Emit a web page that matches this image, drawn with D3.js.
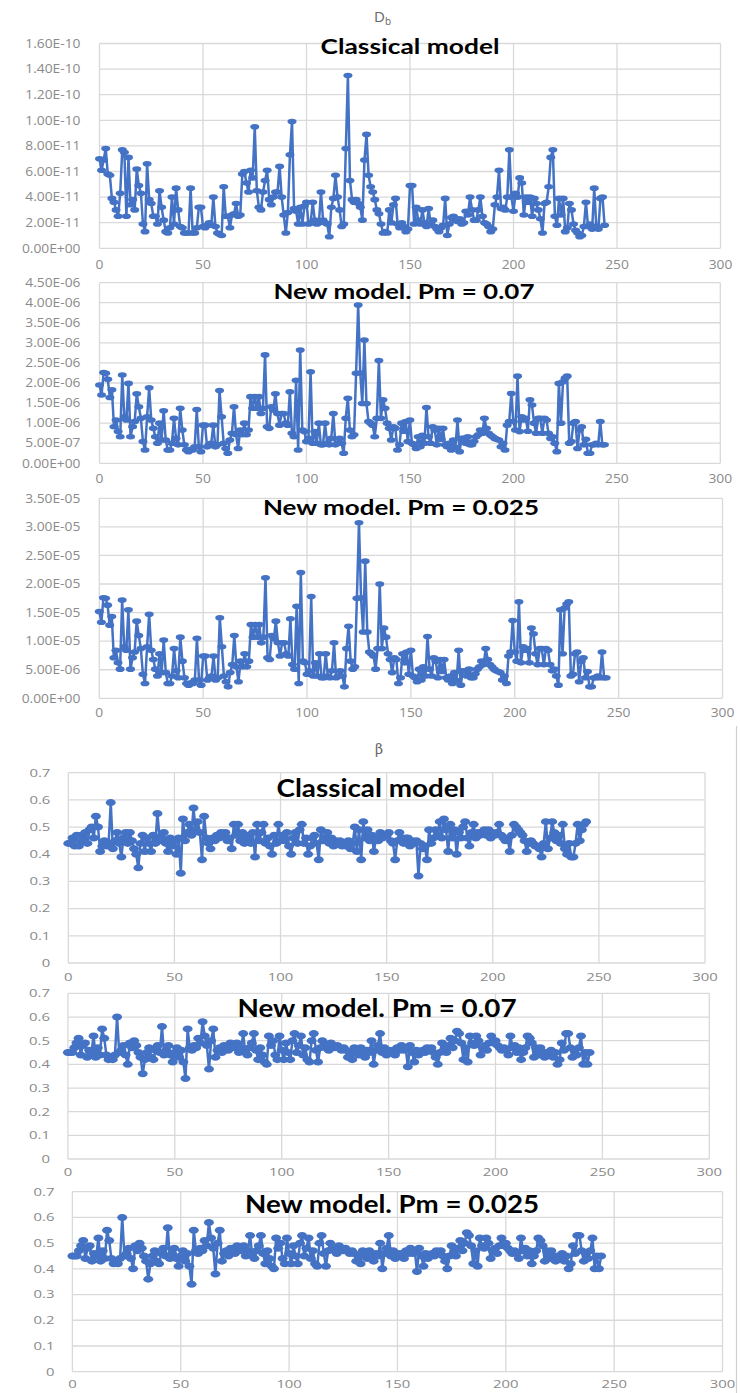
<!DOCTYPE html>
<html>
<head>
<meta charset="utf-8">
<script src="https://cdn.jsdelivr.net/npm/d3@7/dist/d3.min.js"></script>
<style>
  html, body { margin: 0; padding: 0; background: #fff; }
  svg { display: block; }
</style>
</head>
<body>
<svg id="chart" width="740" height="1393"></svg>
<script>
// ---------- data ----------
const xTicks = [0, 50, 100, 150, 200, 250, 300];

// D_b, classical model (values in units of 1e-11)
const dbClassicalUnit = 1e-11;
const dbClassicalTicks = [0, 2, 4, 6, 8, 10, 12, 14, 16];
const dbClassical = [
  7.0, 6.1, 6.9, 7.8, 5.8, 5.7, 3.9, 3.6, 3.0, 2.5,
  4.3, 7.7, 7.5, 2.5, 7.1, 3.4, 3.8, 3.0, 6.2, 4.9,
  4.3, 1.9, 1.3, 6.6, 3.8, 3.5, 2.5, 2.5, 1.9, 4.5,
  3.2, 2.2, 1.3, 1.2, 1.6, 4.0, 1.9, 4.7, 3.0, 1.7,
  1.6, 1.2, 1.2, 1.2, 4.7, 1.2, 1.2, 1.6, 3.2, 3.2,
  1.7, 1.6, 1.8, 2.0, 1.8, 4.0, 1.7, 1.2, 1.1, 1.0,
  4.8, 2.5, 2.5, 1.6, 2.6, 2.7, 3.5, 2.5, 2.6, 5.8,
  6.0, 5.1, 4.4, 6.1, 5.5, 9.5, 4.5, 3.2, 3.0, 4.4,
  5.3, 6.1, 3.8, 3.4, 4.0, 4.4, 4.4, 6.4, 4.0, 2.6,
  1.2, 2.8, 7.3, 9.9, 3.1, 2.9, 1.9, 3.2, 1.9, 3.3,
  3.6, 1.9, 2.0, 3.6, 2.2, 1.9, 2.0, 4.4, 2.2, 2.0,
  1.9, 0.9, 3.2, 3.9, 5.7, 4.0, 3.0, 1.7, 1.9, 7.8,
  13.5, 5.3, 3.8, 3.6, 3.8, 3.5, 3.2, 2.2, 6.9, 8.9,
  5.7, 4.8, 4.4, 3.8, 3.0, 2.7, 1.9, 1.2, 1.3, 1.2,
  3.0, 2.0, 3.4, 3.9, 1.9, 1.6, 2.0, 1.7, 1.3, 1.5,
  4.9, 4.9, 1.9, 3.2, 2.2, 1.9, 3.0, 2.0, 1.7, 3.1,
  1.9, 2.2, 1.7, 1.5, 1.3, 1.6, 1.8, 3.9, 1.0, 1.9,
  2.4, 2.5, 2.2, 2.1, 2.3, 1.9, 2.0, 2.9, 2.6, 4.0,
  3.0, 2.2, 2.2, 3.0, 4.0, 2.5, 2.0, 1.9, 1.7, 1.3,
  1.5, 3.4, 4.0, 6.1, 3.1, 3.2, 3.0, 4.0, 7.7, 4.0,
  2.9, 4.3, 4.0, 5.5, 5.1, 2.6, 4.0, 3.6, 4.0, 2.5,
  3.9, 3.5, 3.0, 2.3, 1.2, 3.5, 3.6, 4.8, 7.1, 7.7,
  2.5, 1.8, 3.9, 2.6, 3.9, 1.3, 1.6, 3.5, 3.0, 1.9,
  1.4, 1.2, 0.9, 1.0, 1.7, 3.6, 1.7, 1.9, 1.5, 4.7,
  1.7, 1.5, 3.9, 4.0, 1.8
];

// D_b, new model, Pm = 0.07 (values in units of 1e-6)
const dbNew07Unit = 1e-6;
const dbNew07Ticks = [0, 0.5, 1, 1.5, 2, 2.5, 3, 3.5, 4, 4.5];
const dbNew07 = [
  1.95, 1.70, 2.26, 2.24, 2.09, 1.64, 1.83, 0.91, 1.08, 0.79,
  0.66, 2.20, 1.16, 1.08, 1.99, 0.66, 0.91, 1.04, 1.73, 1.41,
  1.12, 0.54, 0.33, 1.16, 1.88, 1.08, 0.87, 0.66, 0.50, 1.00,
  0.58, 1.31, 0.58, 0.33, 0.33, 0.50, 1.12, 0.62, 0.46, 1.37,
  0.83, 0.46, 0.33, 0.29, 0.35, 0.33, 0.41, 1.34, 0.41, 0.29,
  0.95, 0.95, 0.41, 0.46, 0.50, 0.95, 0.41, 0.46, 1.81, 1.16,
  0.50, 0.37, 0.25, 0.58, 0.75, 1.41, 0.71, 0.37, 0.83, 0.71,
  1.00, 0.71, 0.83, 1.66, 1.37, 1.66, 1.37, 1.66, 1.24, 1.37,
  2.70, 0.91, 0.87, 1.41, 1.33, 1.73, 1.24, 0.95, 1.24, 1.24,
  1.00, 0.95, 1.78, 0.75, 0.66, 2.07, 0.33, 2.82, 0.83, 0.79,
  0.54, 0.62, 2.28, 0.50, 0.79, 0.50, 1.00, 0.46, 0.46, 1.00,
  0.50, 0.46, 0.62, 1.24, 0.46, 0.50, 0.62, 0.50, 0.25, 1.12,
  1.62, 0.83, 0.66, 0.71, 2.24, 3.94, 2.25, 1.49, 3.07, 1.49,
  1.04, 1.00, 0.95, 0.66, 1.12, 2.56, 1.12, 1.58, 1.37, 1.00,
  0.87, 0.58, 0.91, 0.87, 0.33, 0.46, 1.00, 0.80, 1.04, 0.54,
  1.08, 0.50, 0.46, 0.37, 0.66, 0.41, 0.70, 0.50, 1.39, 0.66,
  0.50, 0.91, 0.83, 0.46, 0.87, 0.60, 0.87, 0.46, 0.41, 0.50,
  0.33, 0.58, 0.40, 1.08, 0.29, 0.62, 0.62, 0.50, 0.66, 0.46,
  0.46, 0.55, 0.66, 0.71, 0.83, 0.75, 1.12, 0.87, 0.75, 0.70,
  0.66, 0.62, 0.60, 0.58, 0.41, 0.50, 0.33, 0.95, 1.04, 1.74,
  1.04, 0.83, 2.17, 0.79, 1.16, 1.08, 1.12, 0.80, 1.58, 1.45,
  1.00, 0.75, 1.12, 1.12, 0.75, 1.12, 1.08, 0.75, 0.62, 0.66,
  0.50, 0.29, 1.99, 1.00, 2.03, 2.12, 2.17, 0.50, 0.54, 1.00,
  1.04, 0.37, 0.83, 0.91, 0.46, 0.60, 0.25, 0.25, 0.46, 0.46,
  0.50, 0.46, 1.04, 0.46, 0.46
];

// D_b, new model, Pm = 0.025 (values in units of 1e-6)
const dbNew025Unit = 1e-6;
const dbNew025Ticks = [0, 5, 10, 15, 20, 25, 30, 35];
const dbNew025 = [
  15.2, 13.3, 17.6, 17.5, 16.3, 12.8, 14.3, 7.1, 8.4, 6.2,
  5.1, 17.2, 9.0, 8.4, 15.5, 5.1, 7.1, 8.1, 13.5, 11.0,
  8.7, 4.2, 2.6, 9.0, 14.7, 8.4, 6.8, 5.1, 3.9, 7.8,
  4.5, 10.2, 4.5, 2.6, 2.6, 3.9, 8.7, 4.8, 3.6, 10.7,
  6.5, 3.6, 2.6, 2.3, 2.7, 2.6, 3.2, 10.5, 3.2, 2.3,
  7.4, 7.4, 3.2, 3.6, 3.9, 7.4, 3.2, 3.6, 14.1, 9.0,
  3.9, 2.9, 2.0, 4.5, 5.9, 11.0, 5.5, 2.9, 6.5, 5.5,
  7.8, 5.5, 6.5, 12.9, 10.7, 12.9, 10.7, 12.9, 9.7, 10.7,
  21.1, 7.1, 6.8, 11.0, 10.4, 13.5, 9.7, 7.4, 9.7, 9.7,
  7.8, 7.4, 13.9, 5.9, 5.1, 16.1, 2.6, 22.0, 6.5, 6.2,
  4.2, 4.8, 17.8, 3.9, 6.2, 3.9, 7.8, 3.6, 3.6, 7.8,
  3.9, 3.6, 4.8, 9.7, 3.6, 3.9, 4.8, 3.9, 2.0, 8.7,
  12.6, 6.5, 5.1, 5.5, 17.5, 30.7, 17.6, 11.6, 24.0, 11.6,
  8.1, 7.8, 7.4, 5.1, 8.7, 20.0, 8.7, 12.3, 10.7, 7.8,
  6.8, 4.5, 7.1, 6.8, 2.6, 3.6, 7.8, 6.2, 8.1, 4.2,
  8.4, 3.9, 3.6, 2.9, 5.1, 3.2, 5.5, 3.9, 10.8, 5.1,
  3.9, 7.1, 6.5, 3.6, 6.8, 4.7, 6.8, 3.6, 3.2, 3.9,
  2.6, 4.5, 3.1, 8.4, 2.3, 4.8, 4.8, 3.9, 5.1, 3.6,
  3.6, 4.3, 5.1, 5.5, 6.5, 5.9, 8.7, 6.8, 5.9, 5.5,
  5.1, 4.8, 4.7, 4.5, 3.2, 3.9, 2.6, 7.4, 8.1, 13.6,
  8.1, 6.5, 16.9, 6.2, 9.0, 8.4, 8.7, 6.2, 12.3, 11.3,
  7.8, 5.9, 8.7, 8.7, 5.9, 8.7, 8.4, 5.9, 4.8, 5.1,
  3.9, 2.3, 15.5, 7.8, 15.8, 16.5, 16.9, 3.9, 4.2, 7.8,
  8.1, 2.9, 6.5, 7.1, 3.6, 4.7, 2.0, 2.0, 3.6, 3.6,
  3.9, 3.6, 8.1, 3.6, 3.6
];

// beta series share one value axis
const betaTicks = [0, 0.1, 0.2, 0.3, 0.4, 0.5, 0.6, 0.7];

const betaClassical = [
  0.44, 0.44, 0.46, 0.43, 0.47, 0.43, 0.47, 0.45, 0.48, 0.44,
  0.49, 0.50, 0.46, 0.54, 0.50, 0.41, 0.43, 0.45, 0.43, 0.44,
  0.59, 0.42, 0.45, 0.48, 0.44, 0.39, 0.46, 0.48, 0.44, 0.48,
  0.45, 0.42, 0.40, 0.35, 0.44, 0.47, 0.41, 0.46, 0.44, 0.41,
  0.47, 0.44, 0.55, 0.46, 0.45, 0.48, 0.44, 0.41, 0.46, 0.43,
  0.45, 0.40, 0.46, 0.33, 0.53, 0.45, 0.48, 0.51, 0.47, 0.57,
  0.49, 0.52, 0.48, 0.38, 0.54, 0.46, 0.44, 0.42, 0.46, 0.45,
  0.47, 0.46, 0.48, 0.47, 0.48, 0.45, 0.46, 0.42, 0.51, 0.47,
  0.51, 0.45, 0.48, 0.44, 0.46, 0.47, 0.44, 0.48, 0.39, 0.51,
  0.45, 0.48, 0.51, 0.44, 0.46, 0.43, 0.40, 0.47, 0.44, 0.51,
  0.45, 0.47, 0.45, 0.48, 0.43, 0.40, 0.46, 0.48, 0.44, 0.49,
  0.51, 0.44, 0.46, 0.40, 0.43, 0.46, 0.47, 0.44, 0.38, 0.49,
  0.45, 0.46, 0.48, 0.44, 0.46, 0.43, 0.45, 0.44, 0.45, 0.43,
  0.44, 0.43, 0.45, 0.42, 0.44, 0.50, 0.41, 0.49, 0.38, 0.52,
  0.46, 0.49, 0.45, 0.47, 0.41, 0.46, 0.45, 0.48, 0.46, 0.47,
  0.47, 0.48, 0.45, 0.44, 0.38, 0.45, 0.48, 0.46, 0.44, 0.46,
  0.46, 0.43, 0.45, 0.44, 0.45, 0.32, 0.44, 0.42, 0.43, 0.38,
  0.49, 0.44, 0.46, 0.49, 0.47, 0.52, 0.46, 0.53, 0.49, 0.41,
  0.51, 0.46, 0.49, 0.40, 0.48, 0.46, 0.50, 0.52, 0.46, 0.43,
  0.48, 0.51, 0.46, 0.48, 0.47, 0.48, 0.49, 0.47, 0.49, 0.46,
  0.48, 0.47, 0.48, 0.51, 0.47, 0.46, 0.45, 0.46, 0.41, 0.47,
  0.51, 0.50, 0.49, 0.48, 0.47, 0.45, 0.41, 0.44, 0.45, 0.44,
  0.43, 0.43, 0.42, 0.39, 0.44, 0.52, 0.42, 0.46, 0.52, 0.48,
  0.45, 0.47, 0.44, 0.51, 0.42, 0.40, 0.44, 0.39, 0.39, 0.44,
  0.51, 0.45, 0.49, 0.51, 0.52
];

const betaNew07 = [
  0.45, 0.45, 0.45, 0.47, 0.49, 0.51, 0.44, 0.48, 0.49, 0.43,
  0.46, 0.45, 0.52, 0.43, 0.47, 0.44, 0.55, 0.51, 0.44, 0.42,
  0.43, 0.42, 0.44, 0.60, 0.45, 0.46, 0.48, 0.44, 0.40, 0.49,
  0.47, 0.50, 0.48, 0.45, 0.43, 0.36, 0.42, 0.45, 0.47, 0.43,
  0.42, 0.46, 0.48, 0.45, 0.56, 0.44, 0.46, 0.48, 0.44, 0.41,
  0.45, 0.47, 0.43, 0.46, 0.41, 0.34, 0.55, 0.47, 0.46, 0.48,
  0.47, 0.51, 0.49, 0.58, 0.52, 0.48, 0.38, 0.50, 0.55, 0.43,
  0.46, 0.47, 0.45, 0.48, 0.47, 0.46, 0.49, 0.48, 0.47, 0.49,
  0.45, 0.47, 0.53, 0.45, 0.44, 0.47, 0.49, 0.53, 0.46, 0.42,
  0.47, 0.44, 0.41, 0.40, 0.52, 0.48, 0.50, 0.44, 0.42, 0.52,
  0.46, 0.42, 0.49, 0.45, 0.42, 0.50, 0.53, 0.45, 0.48, 0.52,
  0.44, 0.47, 0.42, 0.41, 0.50, 0.53, 0.46, 0.41, 0.47, 0.50,
  0.48, 0.47, 0.46, 0.49, 0.48, 0.47, 0.48, 0.47, 0.46, 0.47,
  0.46, 0.43, 0.45, 0.42, 0.47, 0.46, 0.44, 0.47, 0.45, 0.43,
  0.46, 0.45, 0.50, 0.40, 0.46, 0.48, 0.53, 0.45, 0.47, 0.44,
  0.46, 0.45, 0.46, 0.44, 0.47, 0.46, 0.48, 0.46, 0.47, 0.39,
  0.48, 0.45, 0.41, 0.46, 0.44, 0.45, 0.46, 0.45, 0.47, 0.46,
  0.47, 0.45, 0.43, 0.40, 0.45, 0.49, 0.46, 0.45, 0.48, 0.51,
  0.47, 0.50, 0.54, 0.53, 0.49, 0.42, 0.47, 0.41, 0.52, 0.49,
  0.48, 0.52, 0.50, 0.44, 0.47, 0.48, 0.46, 0.49, 0.52, 0.49,
  0.50, 0.48, 0.47, 0.46, 0.47, 0.46, 0.44, 0.52, 0.47, 0.48,
  0.45, 0.47, 0.42, 0.45, 0.47, 0.52, 0.51, 0.49, 0.43, 0.47,
  0.44, 0.47, 0.45, 0.43, 0.45, 0.44, 0.46, 0.43, 0.45, 0.40,
  0.42, 0.49, 0.46, 0.53, 0.53, 0.47, 0.43, 0.46, 0.44, 0.47,
  0.52, 0.40, 0.45, 0.40, 0.45
];

const betaNew025 = [
  0.45, 0.45, 0.45, 0.47, 0.49, 0.51, 0.44, 0.48, 0.49, 0.43,
  0.46, 0.45, 0.52, 0.43, 0.47, 0.44, 0.55, 0.51, 0.44, 0.42,
  0.43, 0.42, 0.44, 0.60, 0.45, 0.46, 0.48, 0.44, 0.40, 0.49,
  0.47, 0.50, 0.48, 0.45, 0.43, 0.36, 0.42, 0.45, 0.47, 0.43,
  0.42, 0.46, 0.48, 0.45, 0.56, 0.44, 0.46, 0.48, 0.44, 0.41,
  0.45, 0.47, 0.43, 0.46, 0.41, 0.34, 0.55, 0.47, 0.46, 0.48,
  0.47, 0.51, 0.49, 0.58, 0.52, 0.48, 0.38, 0.50, 0.55, 0.43,
  0.46, 0.47, 0.45, 0.48, 0.47, 0.46, 0.49, 0.48, 0.47, 0.49,
  0.45, 0.47, 0.53, 0.45, 0.44, 0.47, 0.49, 0.53, 0.46, 0.42,
  0.47, 0.44, 0.41, 0.40, 0.52, 0.48, 0.50, 0.44, 0.42, 0.52,
  0.46, 0.42, 0.49, 0.45, 0.42, 0.50, 0.53, 0.45, 0.48, 0.52,
  0.44, 0.47, 0.42, 0.41, 0.50, 0.53, 0.46, 0.41, 0.47, 0.50,
  0.48, 0.47, 0.46, 0.49, 0.48, 0.47, 0.48, 0.47, 0.46, 0.47,
  0.46, 0.43, 0.45, 0.42, 0.47, 0.46, 0.44, 0.47, 0.45, 0.43,
  0.46, 0.45, 0.50, 0.40, 0.46, 0.48, 0.53, 0.45, 0.47, 0.44,
  0.46, 0.45, 0.46, 0.44, 0.47, 0.46, 0.48, 0.46, 0.47, 0.39,
  0.48, 0.45, 0.41, 0.46, 0.44, 0.45, 0.46, 0.45, 0.47, 0.46,
  0.47, 0.45, 0.43, 0.40, 0.45, 0.49, 0.46, 0.45, 0.48, 0.51,
  0.47, 0.50, 0.54, 0.53, 0.49, 0.42, 0.47, 0.41, 0.52, 0.49,
  0.48, 0.52, 0.50, 0.44, 0.47, 0.48, 0.46, 0.49, 0.52, 0.49,
  0.50, 0.48, 0.47, 0.46, 0.47, 0.46, 0.44, 0.52, 0.47, 0.48,
  0.45, 0.47, 0.42, 0.45, 0.47, 0.52, 0.51, 0.49, 0.43, 0.47,
  0.44, 0.47, 0.45, 0.43, 0.45, 0.44, 0.46, 0.43, 0.45, 0.40,
  0.42, 0.49, 0.46, 0.53, 0.53, 0.47, 0.43, 0.46, 0.44, 0.47,
  0.52, 0.40, 0.45, 0.40, 0.45
];

const panelTitles = [
  "Classical model", "New model. Pm = 0.07", "New model. Pm = 0.025",
  "Classical model", "New model. Pm = 0.07", "New model. Pm = 0.025"
];

// ---------- formatting ----------
// Spreadsheet-style scientific label, e.g. 1.60E-10, 0.00E+00
function sciLabel(v) {
  const [m, e] = v.toExponential(2).split("e");
  const n = +e;
  return m + "E" + (n < 0 ? "-" : "+") + String(Math.abs(n)).padStart(2, "0");
}
const plainLabel = v => String(+v.toFixed(1));

// ---------- layout ----------
const BLUE = "#4472C4";
const GRID = "#d9d9d9";
const TICK_COLOR = "#8a8a8a";

const panels = [
  { values: dbClassical, unit: dbClassicalUnit, ticks: dbClassicalTicks, fmt: sciLabel,
    x0: 99.5, x1: 720.5, yT: 43.5, yB: 248.3,
    tx: 410, ty: 54, tw: 179, ts: 20, xly: 265, lab: 12, labSx: 1.15, gap: 19, rx: 4.5, ry: 2.8 },
  { values: dbNew07, unit: dbNew07Unit, ticks: dbNew07Ticks, fmt: sciLabel,
    x0: 99.5, x1: 720.3, yT: 282.6, yB: 463.3,
    tx: 404, ty: 298.5, tw: 261, ts: 20, xly: 478.3, lab: 12, labSx: 1.15, gap: 19, rx: 4.5, ry: 2.8 },
  { values: dbNew025, unit: dbNew025Unit, ticks: dbNew025Ticks, fmt: sciLabel,
    x0: 99.3, x1: 722.5, yT: 498.3, yB: 698.3,
    tx: 401, ty: 515, tw: 276, ts: 20, xly: 713, lab: 12, labSx: 1.15, gap: 19, rx: 4.5, ry: 2.8 },
  { values: betaClassical, unit: 1, ticks: betaTicks, fmt: plainLabel,
    x0: 68.3, x1: 705, yT: 772.7, yB: 963,
    tx: 371, ty: 796.5, tw: 189, ts: 25, xly: 977, lab: 11, labSx: 1.35, gap: 18, rx: 5, ry: 3.5 },
  { values: betaNew07, unit: 1, ticks: betaTicks, fmt: plainLabel,
    x0: 67.9, x1: 709.3, yT: 993.4, yB: 1159,
    tx: 377, ty: 1016.5, tw: 279, ts: 25, xly: 1171.7, lab: 11, labSx: 1.35, gap: 18, rx: 5, ry: 3.5 },
  { values: betaNew025, unit: 1, ticks: betaTicks, fmt: plainLabel,
    x0: 72.4, x1: 722.5, yT: 1191.7, yB: 1371.7,
    tx: 392, ty: 1213, tw: 294, ts: 25, xly: 1384, lab: 11, labSx: 1.35, gap: 18, rx: 5, ry: 3.5 }
];

const svg = d3.select("#chart");
svg.append("rect").attr("width", 740).attr("height", 1393).attr("fill", "#fff");

// group headings
const hD = svg.append("text")
  .attr("x", 374).attr("y", 22)
  .attr("font-family", "Open Sans, sans-serif").attr("font-size", 15)
  .attr("fill", "#666");
hD.append("tspan").text("D");
hD.append("tspan").attr("font-size", 10).attr("dy", 3).text("b");

svg.append("text")
  .attr("x", 379).attr("y", 754).attr("text-anchor", "middle")
  .attr("font-family", "DejaVu Serif, serif").attr("font-size", 14)
  .attr("fill", "#666").text("β");

// frame line along the right of the lower figure
svg.append("line")
  .attr("x1", 736.5).attr("x2", 736.5).attr("y1", 726).attr("y2", 1393)
  .attr("stroke", "#cfcfcf").attr("stroke-width", 1.2);

panels.forEach((p, k) => {
  const g = svg.append("g");
  const x = d3.scaleLinear().domain([0, 300]).range([p.x0, p.x1]);
  const yMax = p.ticks[p.ticks.length - 1];
  const y = d3.scaleLinear().domain([0, yMax]).range([p.yB, p.yT]);

  // horizontal gridlines
  g.selectAll("line.hg").data(p.ticks).join("line")
    .attr("x1", p.x0).attr("x2", p.x1)
    .attr("y1", d => y(d)).attr("y2", d => y(d))
    .attr("stroke", GRID).attr("stroke-width", 1.3);
  // vertical gridlines
  g.selectAll("line.vg").data(xTicks).join("line")
    .attr("x1", d => x(d)).attr("x2", d => x(d))
    .attr("y1", p.yT).attr("y2", p.yB)
    .attr("stroke", GRID).attr("stroke-width", 1.3);

  // value-axis labels
  g.selectAll("text.yl").data(p.ticks).join("text")
    .attr("transform", d => `translate(${p.x0 - p.gap},${y(d)}) scale(${p.labSx},1)`)
    .attr("text-anchor", "end").attr("dy", "0.35em")
    .attr("font-family", "Open Sans, sans-serif").attr("font-size", p.lab)
    .attr("fill", TICK_COLOR)
    .text(d => p.fmt(d * p.unit));

  // index-axis labels
  g.selectAll("text.xl").data(xTicks).join("text")
    .attr("transform", d => `translate(${x(d)},${p.xly}) scale(${p.labSx},1)`)
    .attr("text-anchor", "middle").attr("dy", "0.35em")
    .attr("font-family", "Open Sans, sans-serif").attr("font-size", p.lab)
    .attr("fill", TICK_COLOR)
    .text(d => d);

  // series line
  const line = d3.line().x((d, i) => x(i)).y(d => y(d));
  g.append("path").datum(p.values)
    .attr("d", line)
    .attr("fill", "none").attr("stroke", BLUE)
    .attr("stroke-width", 2.5).attr("stroke-linejoin", "round");

  // markers
  g.selectAll("ellipse").data(p.values).join("ellipse")
    .attr("cx", (d, i) => x(i)).attr("cy", d => y(d))
    .attr("rx", p.rx).attr("ry", p.ry)
    .attr("fill", BLUE);

  // panel title
  g.append("text")
    .attr("x", p.tx).attr("y", p.ty).attr("text-anchor", "middle")
    .attr("font-family", "Lato, sans-serif").attr("font-weight", 700)
    .attr("font-size", p.ts).attr("fill", "#000")
    .attr("textLength", p.tw).attr("lengthAdjust", "spacingAndGlyphs")
    .text(panelTitles[k]);
});
</script>
</body>
</html>
